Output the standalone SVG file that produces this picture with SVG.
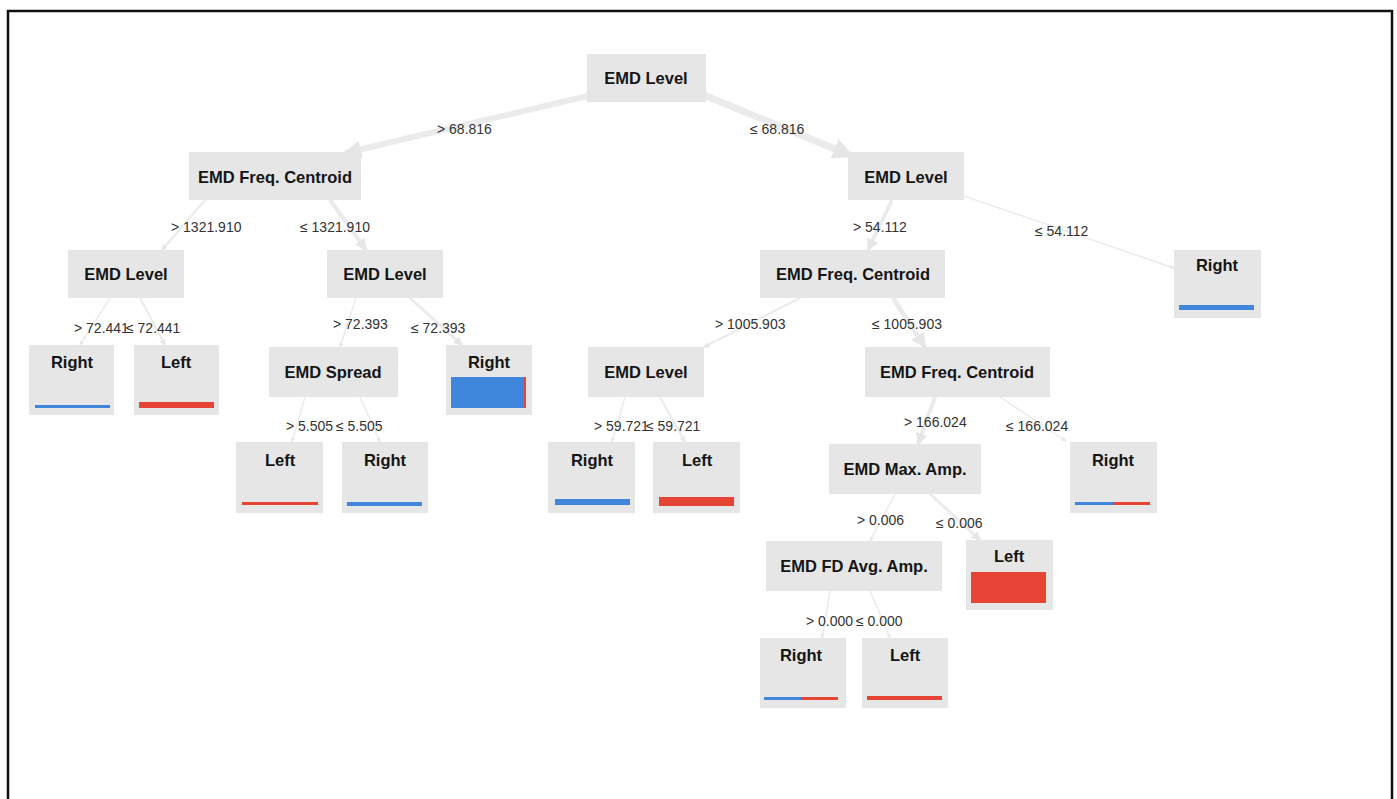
<svg xmlns="http://www.w3.org/2000/svg" width="1397" height="799" viewBox="0 0 1397 799">
  <style>
    .box { fill: #e6e6e6; }
    .lbl { font-family: "Liberation Sans", Arial, sans-serif; font-size: 16.5px; font-weight: bold; fill: #151515; text-anchor: middle; }
    .cond { font-family: "Liberation Sans", Arial, sans-serif; font-size: 14px; fill: #333333; }
    .edge { stroke: #ebebeb; fill: none; stroke-linecap: butt; marker-end: url(#head); }
    .blue { fill: #3f86dc; }
    .red { fill: #e64536; }
  </style>
  <defs>
    <marker id="head" viewBox="0 0 10 10" refX="9" refY="5" markerWidth="3" markerHeight="3" orient="auto">
      <path d="M0,0 L10,5 L0,10 z" fill="#e6e6e6"/>
    </marker>
  </defs>

  <rect width="1397" height="799" fill="#ffffff"/>
  <rect x="8" y="11" width="1384" height="800" fill="none" stroke="#111111" stroke-width="2.5"/>

  <g id="connectors">
    <line class="edge" x1="592" y1="95" x2="345" y2="153" stroke-width="6"/>
    <line class="edge" x1="704" y1="95" x2="852" y2="156" stroke-width="7"/>
    <line class="edge" x1="205" y1="200" x2="162" y2="250" stroke-width="2"/>
    <line class="edge" x1="330" y1="200" x2="366" y2="250" stroke-width="4"/>
    <line class="edge" x1="892" y1="200" x2="868" y2="250" stroke-width="4"/>
    <line class="edge" x1="964" y1="196" x2="1174" y2="268" stroke-width="1.5"/>
    <line class="edge" x1="110" y1="298" x2="80" y2="345" stroke-width="1.5"/>
    <line class="edge" x1="140" y1="298" x2="165" y2="345" stroke-width="2"/>
    <line class="edge" x1="356" y1="298" x2="340" y2="347" stroke-width="1.5"/>
    <line class="edge" x1="410" y1="298" x2="462" y2="345" stroke-width="3"/>
    <line class="edge" x1="800" y1="298" x2="704" y2="347" stroke-width="2"/>
    <line class="edge" x1="893" y1="298" x2="925" y2="347" stroke-width="5"/>
    <line class="edge" x1="625" y1="397" x2="612" y2="442" stroke-width="1.5"/>
    <line class="edge" x1="660" y1="397" x2="685" y2="442" stroke-width="2"/>
    <line class="edge" x1="305" y1="397" x2="292" y2="442" stroke-width="1.5"/>
    <line class="edge" x1="360" y1="397" x2="380" y2="442" stroke-width="1.5"/>
    <line class="edge" x1="935" y1="397" x2="918" y2="444" stroke-width="4"/>
    <line class="edge" x1="1000" y1="397" x2="1066" y2="441" stroke-width="1.5"/>
    <line class="edge" x1="895" y1="494" x2="870" y2="541" stroke-width="1.5"/>
    <line class="edge" x1="930" y1="494" x2="980" y2="540" stroke-width="3"/>
    <line class="edge" x1="830" y1="591" x2="822" y2="638" stroke-width="1.5"/>
    <line class="edge" x1="870" y1="591" x2="890" y2="638" stroke-width="1.5"/>

    <text class="cond" x="437" y="134">&gt; 68.816</text>
    <text class="cond" x="750" y="134">≤ 68.816</text>
    <text class="cond" x="171" y="232">&gt; 1321.910</text>
    <text class="cond" x="300" y="232">≤ 1321.910</text>
    <text class="cond" x="853" y="232">&gt; 54.112</text>
    <text class="cond" x="1035" y="236">≤ 54.112</text>
    <text class="cond" x="74" y="333">&gt; 72.441</text>
    <text class="cond" x="126" y="333">≤ 72.441</text>
    <text class="cond" x="333" y="329">&gt; 72.393</text>
    <text class="cond" x="411" y="333">≤ 72.393</text>
    <text class="cond" x="715" y="329">&gt; 1005.903</text>
    <text class="cond" x="872" y="329">≤ 1005.903</text>
    <text class="cond" x="286" y="431">&gt; 5.505</text>
    <text class="cond" x="336" y="431">≤ 5.505</text>
    <text class="cond" x="594" y="431">&gt; 59.721</text>
    <text class="cond" x="646" y="431">≤ 59.721</text>
    <text class="cond" x="904" y="427">&gt; 166.024</text>
    <text class="cond" x="1006" y="431">≤ 166.024</text>
    <text class="cond" x="857" y="525">&gt; 0.006</text>
    <text class="cond" x="936" y="528">≤ 0.006</text>
    <text class="cond" x="806" y="626">&gt; 0.000</text>
    <text class="cond" x="856" y="626">≤ 0.000</text>
  </g>

  <!-- split nodes -->
  <g id="n-root"><rect class="box" x="587" y="54" width="119" height="48"/><text class="lbl" x="646" y="84">EMD Level</text></g>
  <g id="n-fc1"><rect class="box" x="189" y="152" width="172" height="48"/><text class="lbl" x="275" y="183">EMD Freq. Centroid</text></g>
  <g id="n-lvl2"><rect class="box" x="848" y="152" width="116" height="48"/><text class="lbl" x="906" y="183">EMD Level</text></g>
  <g id="n-lvl3"><rect class="box" x="68" y="250" width="116" height="48"/><text class="lbl" x="126" y="280">EMD Level</text></g>
  <g id="n-lvl4"><rect class="box" x="327" y="250" width="116" height="48"/><text class="lbl" x="385" y="280">EMD Level</text></g>
  <g id="n-fc2"><rect class="box" x="760" y="250" width="185" height="48"/><text class="lbl" x="853" y="280">EMD Freq. Centroid</text></g>
  <g id="n-spread"><rect class="box" x="269" y="347" width="129" height="50"/><text class="lbl" x="333" y="378">EMD Spread</text></g>
  <g id="n-lvl5"><rect class="box" x="588" y="347" width="116" height="50"/><text class="lbl" x="646" y="378">EMD Level</text></g>
  <g id="n-fc3"><rect class="box" x="865" y="347" width="185" height="50"/><text class="lbl" x="957" y="378">EMD Freq. Centroid</text></g>
  <g id="n-maxamp"><rect class="box" x="829" y="444" width="152" height="50"/><text class="lbl" x="905" y="475">EMD Max. Amp.</text></g>
  <g id="n-fdavg"><rect class="box" x="766" y="541" width="176" height="50"/><text class="lbl" x="854" y="572">EMD FD Avg. Amp.</text></g>

  <!-- leaves -->
  <g id="leaf-1"><rect class="box" x="29" y="345" width="85" height="70"/><text class="lbl" x="72" y="368">Right</text><rect class="blue" x="35" y="405" width="75" height="3"/></g>
  <g id="leaf-2"><rect class="box" x="134" y="345" width="85" height="70"/><text class="lbl" x="176" y="368">Left</text><rect class="red" x="139" y="402" width="75" height="6"/></g>
  <g id="leaf-3"><rect class="box" x="446" y="345" width="86" height="70"/><text class="lbl" x="489" y="368">Right</text><rect class="blue" x="451" y="377" width="75" height="31"/><rect class="red" x="524" y="377" width="2" height="31"/></g>
  <g id="leaf-4"><rect class="box" x="1174" y="250" width="87" height="68"/><text class="lbl" x="1217" y="271">Right</text><rect class="blue" x="1179" y="305" width="75" height="5"/></g>
  <g id="leaf-5"><rect class="box" x="236" y="442" width="87" height="71"/><text class="lbl" x="280" y="466">Left</text><rect class="red" x="242" y="502" width="76" height="3"/></g>
  <g id="leaf-6"><rect class="box" x="342" y="442" width="86" height="71"/><text class="lbl" x="385" y="466">Right</text><rect class="blue" x="347" y="502" width="75" height="4"/></g>
  <g id="leaf-7"><rect class="box" x="548" y="442" width="87" height="71"/><text class="lbl" x="592" y="466">Right</text><rect class="blue" x="555" y="499" width="75" height="6"/></g>
  <g id="leaf-8"><rect class="box" x="653" y="442" width="87" height="71"/><text class="lbl" x="697" y="466">Left</text><rect class="red" x="659" y="497" width="75" height="9"/></g>
  <g id="leaf-9"><rect class="box" x="1070" y="442" width="87" height="71"/><text class="lbl" x="1113" y="466">Right</text><rect class="blue" x="1075" y="502" width="38" height="3"/><rect class="red" x="1113" y="502" width="37" height="3"/></g>
  <g id="leaf-10"><rect class="box" x="966" y="540" width="87" height="70"/><text class="lbl" x="1009" y="562">Left</text><rect class="red" x="971" y="572" width="75" height="31"/></g>
  <g id="leaf-11"><rect class="box" x="760" y="638" width="86" height="70"/><text class="lbl" x="801" y="661">Right</text><rect class="blue" x="764" y="697" width="37" height="3"/><rect class="red" x="801" y="697" width="37" height="3"/></g>
  <g id="leaf-12"><rect class="box" x="862" y="638" width="86" height="70"/><text class="lbl" x="905" y="661">Left</text><rect class="red" x="867" y="696" width="75" height="4"/></g>
</svg>
